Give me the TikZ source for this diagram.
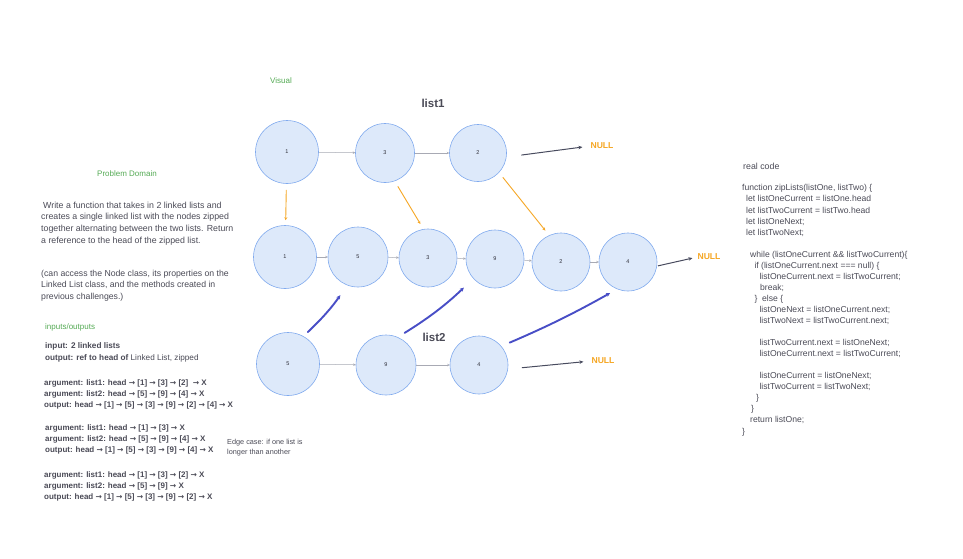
\documentclass[tikz,border=0pt]{standalone}
\usepackage{fontspec}
\setmainfont{Liberation Sans}
\newfontfamily\arrowfont{DejaVu Sans}
\usetikzlibrary{arrows.meta}

\definecolor{nodefill}{RGB}{221,233,250}
\definecolor{nodeline}{RGB}{128,170,238}
\definecolor{txtgray}{RGB}{74,74,86}
\definecolor{labeldark}{RGB}{45,45,55}
\definecolor{labgreen}{RGB}{84,170,84}
\definecolor{nullorange}{RGB}{245,166,35}
\definecolor{zipblue}{RGB}{72,78,198}
\definecolor{linkgray}{RGB}{168,170,180}
\definecolor{nullgray}{RGB}{72,75,94}

\newcommand{\nxt}{{\arrowfont\fontsize{7.6}{6}\selectfont →}}

\tikzset{
  lnode/.style={circle, draw=nodeline, fill=nodefill, line width=0.6pt, inner sep=0pt,
                text=labeldark, font=\fontsize{5.5}{6}\selectfont},
  link/.style={draw=linkgray, line width=0.5pt, -{Stealth[length=2.5pt, width=2.5pt]}},
  tonull/.style={draw=nullgray, line width=1pt, -{Stealth[length=4pt, width=3.5pt]}},
  pick/.style={draw=nullorange, line width=0.9pt, -{Stealth[length=3pt, width=3pt]}},
  zip/.style={draw=zipblue, line width=1.9pt, line cap=round, -{Stealth[length=4pt, width=4pt]}},
  nulltxt/.style={text=nullorange, inner sep=0pt, font=\fontsize{8.6}{10}\selectfont\bfseries},
  listname/.style={text=txtgray, inner sep=0pt, font=\fontsize{11.5}{13}\selectfont\bfseries},
  greenlab/.style={text=labgreen, inner sep=0pt, font=\fontsize{8}{10}\selectfont},
  note/.style={anchor=north west, align=left, inner sep=0pt, text=txtgray,
               font=\fontsize{8.8}{11.7}\selectfont},
  iotxt/.style={note, font=\fontsize{8}{11}\selectfont\bfseries},
  codetxt/.style={note, font=\fontsize{8.6}{11.05}\selectfont}
}

\begin{document}
\begin{tikzpicture}[x=1pt, y=-1pt]
  \useasboundingbox (0,0) rectangle (963,558);

  % list1
  \foreach \name/\x/\y/\d/\v in {n1/287/152/63/1, n3/385/153/59/3, n2/478/153/57/2}
  {
    \path (\x,\y) node[lnode, minimum size=\d pt] (\name) {\v};
  }

  % zipped list
  \foreach \name/\x/\y/\d/\v in {m1/285/257/63/1, m5/358/257/60/5, m3/428/258/58/3,
                                 m9/495/259/58/9, m2/561/262/58/2, m4/628/262/58/4}
  {
    \path (\x,\y) node[lnode, minimum size=\d pt] (\name) {\v};
  }

  % list2
  \foreach \name/\x/\y/\d/\v in {b5/288/364/63/5, b9/386/365/60/9, b4/479/365/58/4}
  {
    \path (\x,\y) node[lnode, minimum size=\d pt] (\name) {\v};
  }

  \node[listname] (listone) at (433,103) {list1};
  \node[listname] (listtwo) at (434,337) {list2};
  \node[greenlab] (visual) at (281,81) {Visual};

  \node[nulltxt] (null1) at (602,146) {NULL};
  \node[nulltxt] (null2) at (709,257) {NULL};
  \node[nulltxt] (null3) at (603,361) {NULL};

  \draw[link] (n1) -- (n3);
  \draw[link] (n3) -- (n2);
  \draw[link] (m1) -- (m5);
  \draw[link] (m5) -- (m3);
  \draw[link] (m3) -- (m9);
  \draw[link] (m9) -- (m2);
  \draw[link] (m2) -- (m4);
  \draw[link] (b5) -- (b9);
  \draw[link] (b9) -- (b4);

  \draw[tonull, shorten <=15pt, shorten >=8pt] (n2.-8) -- (null1.west);
  \draw[tonull, shorten <=1pt, shorten >=5pt] (m4.-8) -- (null2.west);
  \draw[tonull, shorten <=14pt, shorten >=8pt] (b4.-8) -- (null3.west);

  % picking from list1
  \draw[pick, shorten <=6pt, shorten >=5pt] (n1) -- (m1);
  \draw[pick, shorten <=6pt, shorten >=6pt] (n3.289) -- (m3.99);
  \draw[pick, shorten <=6pt, shorten >=6pt] (n2.317) -- (m2.114);

  % picking from list2
  \draw[zip, shorten <=6pt, shorten >=12pt] (b5.61) to[bend right=6] (m5.249);
  \draw[zip, shorten <=8pt, shorten >=13pt] (b9.67) to[bend right=6] (m9.222);
  \draw[zip, shorten <=9pt, shorten >=8pt] (b4.40) to[bend right=3] (m4.248);

  % problem domain
  \node[greenlab] (probdomain) at (127,174) {Problem Domain};
  \node[note] (task) at (41,201.5)
    {\hspace*{2pt}Write a function that takes in 2 linked lists and\\
     creates a single linked list with the nodes zipped\\
     together alternating between the two lists. Return\\
     a reference to the head of the zipped list.};
  \node[note, font=\fontsize{8.7}{11.5}\selectfont] (hint) at (41,269.5)
    {(can access the Node class, its properties on the\\
     Linked List class, and the methods created in\\
     previous challenges.)};

  % inputs and outputs
  \node[greenlab, anchor=west] (iolabel) at (45,327) {inputs/outputs};
  \node[iotxt, font=\fontsize{8.2}{12}\selectfont\bfseries] (io) at (45,342.5)
    {input: 2 linked lists\\
     output: ref to head of \mdseries Linked List, zipped};
  \node[iotxt] (args1) at (44,379.5)
    {argument: list1: head \nxt{} [1] \nxt{} [3] \nxt{} [2] \ \nxt{} X\\
     argument: list2: head \nxt{} [5] \nxt{} [9] \nxt{} [4] \nxt{} X\\
     output: head \nxt{} [1] \nxt{} [5] \nxt{} [3] \nxt{} [9] \nxt{} [2] \nxt{} [4] \nxt{} X};
  \node[iotxt] (args2) at (45,424.5)
    {argument: list1: head \nxt{} [1] \nxt{} [3] \nxt{} X\\
     argument: list2: head \nxt{} [5] \nxt{} [9] \nxt{} [4] \nxt{} X\\
     output: head \nxt{} [1] \nxt{} [5] \nxt{} [3] \nxt{} [9] \nxt{} [4] \nxt{} X};
  \node[iotxt] (args3) at (44,471.5)
    {argument: list1: head \nxt{} [1] \nxt{} [3] \nxt{} [2] \nxt{} X\\
     argument: list2: head \nxt{} [5] \nxt{} [9] \nxt{} X\\
     output: head \nxt{} [1] \nxt{} [5] \nxt{} [3] \nxt{} [9] \nxt{} [2] \nxt{} X};
  \node[note, font=\fontsize{7.3}{10}\selectfont] (edgecase) at (227,439)
    {Edge case: if one list is\\longer than another};

  % real code
  \node[note, anchor=west] (reallabel) at (743,166) {real code};
  \node[codetxt] (code) at (742,184.5)
    {function zipLists(listOne, listTwo) \{\\
     \hspace*{4pt}let listOneCurrent = listOne.head\\
     \hspace*{4pt}let listTwoCurrent = listTwo.head\\
     \hspace*{4pt}let listOneNext;\\
     \hspace*{4pt}let listTwoNext;\\[11.05pt]
     \hspace*{8pt}while (listOneCurrent \&\& listTwoCurrent)\{\\
     \hspace*{12.3pt}if (listOneCurrent.next === null) \{\\
     \hspace*{17.3pt}listOneCurrent.next = listTwoCurrent;\\
     \hspace*{18pt}break;\\
     \hspace*{12.3pt}\}\ \ else \{\\
     \hspace*{17.3pt}listOneNext = listOneCurrent.next;\\
     \hspace*{17.3pt}listTwoNext = listTwoCurrent.next;\\[11.05pt]
     \hspace*{17.3pt}listTwoCurrent.next = listOneNext;\\
     \hspace*{17.3pt}listOneCurrent.next = listTwoCurrent;\\[11.05pt]
     \hspace*{17.3pt}listOneCurrent = listOneNext;\\
     \hspace*{17.3pt}listTwoCurrent = listTwoNext;\\
     \hspace*{14pt}\}\\
     \hspace*{9pt}\}\\
     \hspace*{8pt}return listOne;\\
     \}};
\end{tikzpicture}
\end{document}
